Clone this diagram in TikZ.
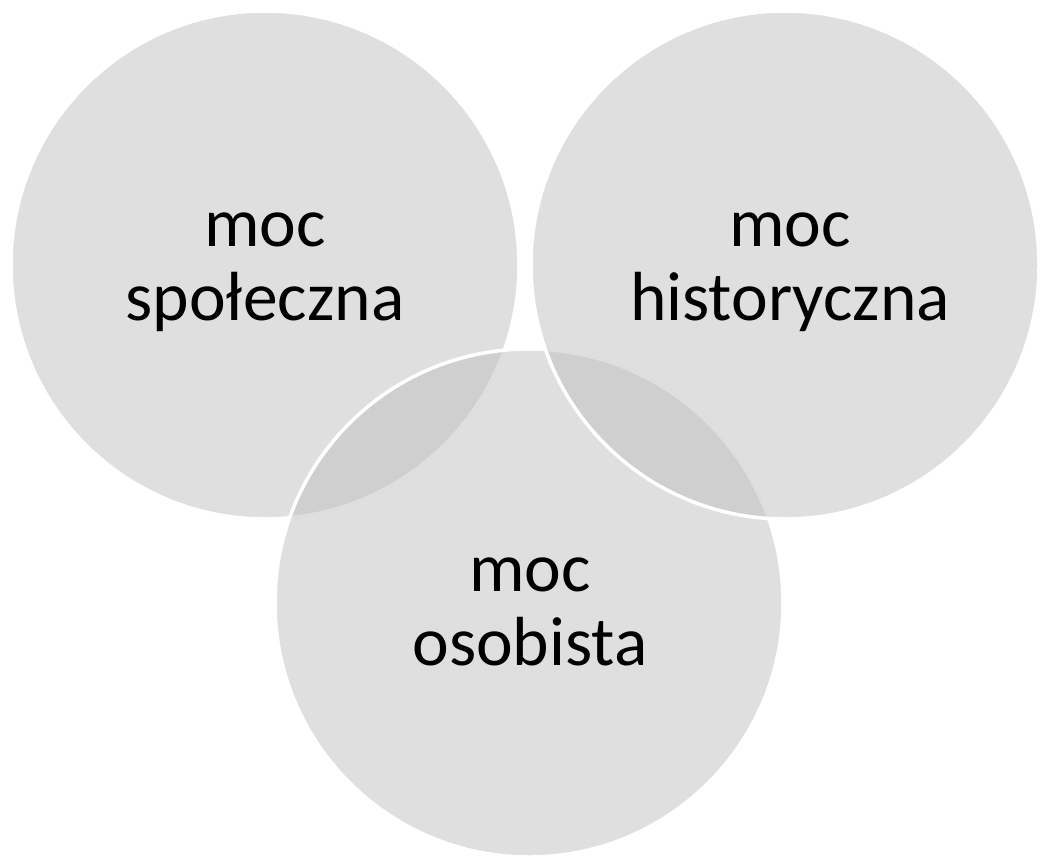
\documentclass[tikz,border=0pt]{standalone}
\usepackage{fontspec}
\setmainfont{Carlito}
\begin{document}
\begin{tikzpicture}[x=1pt,y=-1pt,
  venn/.style={circle,minimum size=508pt,inner sep=0pt,fill=black!25,fill opacity=0.5,draw=white,draw opacity=1,line width=3.5pt},
  lbl/.style={align=center,anchor=base,inner sep=0pt,text=black,font=\fontsize{69.5}{74}\selectfont}]
\useasboundingbox (0,0) rectangle (1040,856);
\node[venn] (c1) at (265,265) {};
\node[venn] (c3) at (529,603) {};
\node[venn] (c2) at (785,265) {};
\node[lbl] (t1) at (265,320) {moc\\społeczna};
\node[lbl] (t2) at (790,320) {moc\\historyczna};
\node[lbl] (t3) at (530,665) {moc\\osobista};
\end{tikzpicture}
\end{document}
